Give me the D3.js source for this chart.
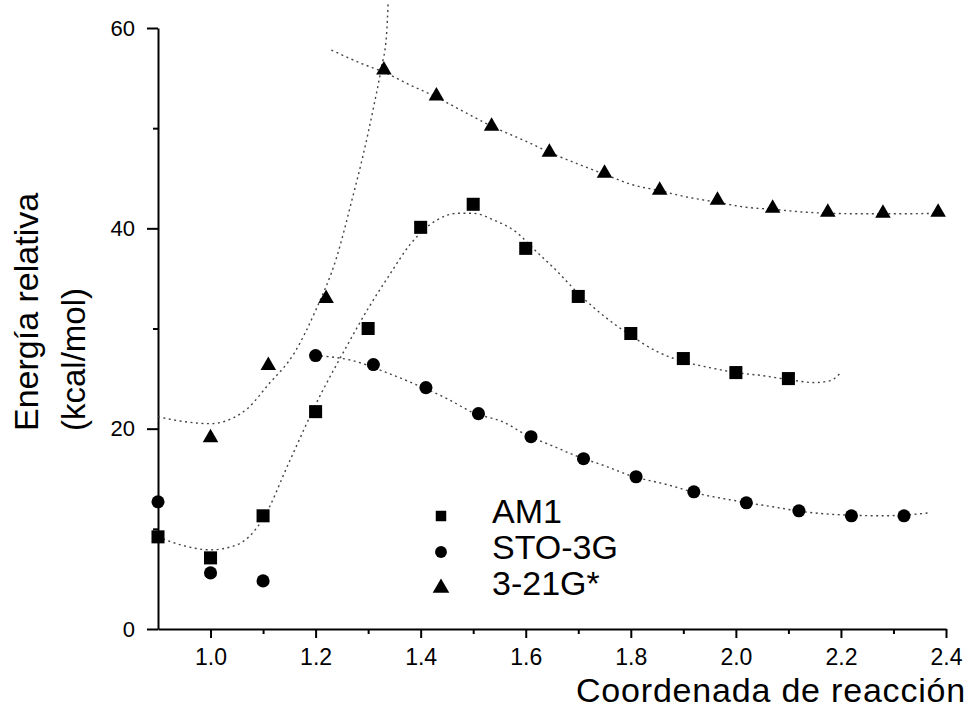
<!DOCTYPE html>
<html>
<head>
<meta charset="utf-8">
<script src="https://cdn.jsdelivr.net/npm/d3@7"></script>
<style>
  html, body { margin: 0; padding: 0; background: #fff; }
  svg { display: block; font-family: "Liberation Sans", Arial, sans-serif; }
</style>
</head>
<body>
<svg id="chart" width="970" height="708"></svg>
<script>
// Reaction coordinate of each computed point
const am1X = [0.9, 1.0, 1.1, 1.2, 1.3, 1.4, 1.5, 1.6, 1.7, 1.8, 1.9, 2.0, 2.1];
const am1Y = [9.2, 7.1, 11.3, 21.7, 30.0, 40.1, 42.4, 38.0, 33.2, 29.5, 27.0, 25.6, 25.0];

const stoX = [0.9, 1.0, 1.1, 1.2, 1.31, 1.41, 1.51, 1.61, 1.71, 1.81, 1.92, 2.02, 2.12, 2.22, 2.32];
const stoY = [12.7, 5.6, 4.8, 27.3, 26.4, 24.1, 21.5, 19.2, 17.0, 15.2, 13.7, 12.6, 11.8, 11.3, 11.3];

const g321X = [1.0, 1.11, 1.22, 1.33, 1.43, 1.535, 1.645, 1.75, 1.855, 1.965, 2.07, 2.175, 2.28, 2.385];
const g321Y = [19.1, 26.3, 33.0, 55.8, 53.2, 50.2, 47.6, 45.5, 43.8, 42.8, 42.0, 41.6, 41.5, 41.6];

// Hand-fitted trend curves (dotted)
const am1FitX = [0.9, 0.95, 1.0, 1.05, 1.1, 1.15, 1.2, 1.26, 1.3, 1.34, 1.38, 1.43, 1.47, 1.5, 1.54, 1.58, 1.62, 1.66, 1.7, 1.75, 1.8, 1.85, 1.9, 1.95, 2.0, 2.05, 2.1, 2.15, 2.18, 2.2];
const am1FitY = [9.2, 8.3, 7.9, 8.4, 11.0, 16.7, 22.4, 28.3, 32.0, 35.3, 38.4, 40.8, 41.5, 41.5, 40.8, 39.7, 37.7, 35.7, 33.5, 31.2, 29.3, 27.7, 26.7, 26.1, 25.6, 25.3, 24.9, 24.6, 24.8, 25.6];

const stoFitX = [1.2, 1.27, 1.335, 1.4, 1.45, 1.5, 1.56, 1.6, 1.65, 1.7, 1.75, 1.8, 1.87, 1.93, 2.0, 2.07, 2.13, 2.2, 2.28, 2.37];
const stoFitY = [27.3, 26.8, 25.6, 24.2, 23.0, 21.6, 20.6, 19.4, 18.3, 17.2, 16.3, 15.3, 14.4, 13.5, 12.8, 12.2, 11.7, 11.4, 11.3, 11.6];

const g321RiseX = [0.9, 0.95, 1.0, 1.04, 1.07, 1.11, 1.16, 1.2, 1.24, 1.27, 1.29, 1.31, 1.325, 1.335, 1.338];
const g321RiseY = [21.2, 20.7, 20.5, 21.0, 22.0, 24.4, 27.6, 31.8, 37.1, 43.0, 47.2, 52.0, 56.0, 59.3, 62.4];

const g321FallX = [1.23, 1.29, 1.33, 1.38, 1.43, 1.48, 1.535, 1.6, 1.645, 1.71, 1.75, 1.8, 1.86, 1.9, 1.965, 2.02, 2.07, 2.135, 2.18, 2.25, 2.3, 2.385];
const g321FallY = [57.8, 56.4, 55.6, 54.3, 53.1, 51.7, 50.2, 48.7, 47.6, 46.2, 45.4, 44.4, 43.7, 43.2, 42.6, 42.1, 41.9, 41.6, 41.5, 41.45, 41.45, 41.5];

// Axis ticks
const xMajorTicks = [1.0, 1.2, 1.4, 1.6, 1.8, 2.0, 2.2, 2.4];
const xMinorTicks = [1.1, 1.3, 1.5, 1.7, 1.9, 2.1, 2.3];
const yMajorTicks = [0, 20, 40, 60];
const yMinorTicks = [10, 30, 50];

const seriesNames = ["AM1", "STO-3G", "3-21G*"];

const svg = d3.select("#chart");

const x = d3.scaleLinear().domain([0.9, 2.4]).range([158, 946]);
const y = d3.scaleLinear().domain([0, 60]).range([629, 28]);

const zip = (xs, ys) => xs.map((v, i) => [v, ys[i]]);

// Axes
const xAxis = svg.append("g").attr("transform", `translate(0,${y(0)})`)
  .call(d3.axisBottom(x).tickValues(xMajorTicks).tickFormat(d3.format(".1f"))
    .tickSize(9).tickSizeOuter(0).tickPadding(11));
svg.append("g").attr("transform", `translate(0,${y(0)})`)
  .call(d3.axisBottom(x).tickValues(xMinorTicks).tickFormat("").tickSize(5).tickSizeOuter(0))
  .select(".domain").remove();

const yAxis = svg.append("g").attr("transform", `translate(${x(0.9)},0)`)
  .call(d3.axisLeft(y).tickValues(yMajorTicks).tickFormat(d3.format("d"))
    .tickSize(11).tickSizeOuter(0).tickPadding(12));
svg.append("g").attr("transform", `translate(${x(0.9)},0)`)
  .call(d3.axisLeft(y).tickValues(yMinorTicks).tickFormat("").tickSize(5).tickSizeOuter(0))
  .select(".domain").remove();

svg.selectAll(".domain").attr("stroke", "#000").attr("stroke-width", 2);
svg.selectAll(".tick line").attr("stroke", "#000").attr("stroke-width", 2);
xAxis.selectAll(".tick text").attr("font-size", 23).attr("fill", "#000")
  .attr("font-family", "Liberation Sans, Arial, sans-serif");
yAxis.selectAll(".tick text").attr("font-size", 22).attr("fill", "#000")
  .attr("font-family", "Liberation Sans, Arial, sans-serif");

// Axis titles
svg.append("text")
  .attr("x", 966).attr("y", 702)
  .attr("text-anchor", "end")
  .attr("font-size", 34)
  .attr("letter-spacing", 0.8)
  .text("Coordenada de reacción");

svg.append("text")
  .attr("transform", "translate(38,431) rotate(-90)")
  .attr("font-size", 34)
  .text("Energía relativa");
svg.append("text")
  .attr("transform", "translate(85,431) rotate(-90)")
  .attr("font-size", 33)
  .text("(kcal/mol)");

// Dotted fit curves
const line = d3.line().x(d => x(d[0])).y(d => y(d[1])).curve(d3.curveMonotoneX);
const fits = [
  zip(am1FitX, am1FitY),
  zip(stoFitX, stoFitY),
  zip(g321RiseX, g321RiseY),
  zip(g321FallX, g321FallY)
];
svg.append("g").selectAll("path").data(fits).join("path")
  .attr("d", line)
  .attr("fill", "none")
  .attr("stroke", "#444")
  .attr("stroke-width", 1.4)
  .attr("stroke-dasharray", "2,3.5");

// Markers
const symSquare = d3.symbol().type(d3.symbolSquare);
const symCircle = d3.symbol().type(d3.symbolCircle);
const symTriangle = d3.symbol().type(d3.symbolTriangle);

svg.append("g").selectAll("path").data(zip(am1X, am1Y)).join("path")
  .attr("transform", d => `translate(${x(d[0])},${y(d[1])})`)
  .attr("d", symSquare.size(170)())
  .attr("fill", "#000");

svg.append("g").selectAll("path").data(zip(stoX, stoY)).join("path")
  .attr("transform", d => `translate(${x(d[0])},${y(d[1])})`)
  .attr("d", symCircle.size(135)())
  .attr("fill", "#000");

svg.append("g").selectAll("path").data(zip(g321X, g321Y)).join("path")
  .attr("transform", d => `translate(${x(d[0])},${y(d[1])})`)
  .attr("d", symTriangle.size(105)())
  .attr("fill", "#000");

// Legend
const legendSymbols = [symSquare.size(110)(), symCircle.size(110)(), symTriangle.size(120)()];
const legend = svg.append("g");
const rows = legend.selectAll("g").data(seriesNames).join("g")
  .attr("transform", (d, i) => `translate(441,${516 + i * 36})`);
rows.append("path").attr("d", (d, i) => legendSymbols[i]).attr("fill", "#000");
rows.append("text")
  .attr("x", 51).attr("y", 7)
  .attr("font-size", 34)
  .text(d => d);
</script>
</body>
</html>
